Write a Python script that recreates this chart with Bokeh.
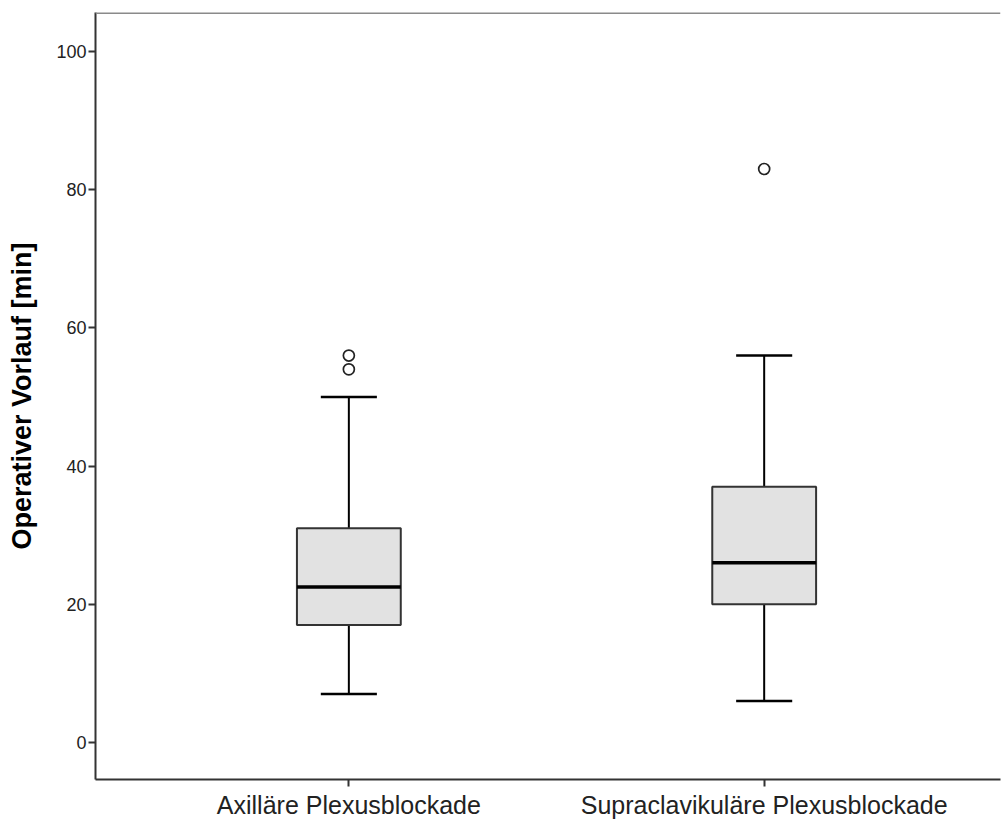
from bokeh.plotting import figure
from bokeh.models import Range1d, FixedTicker, ColumnDataSource, Span
from bokeh.embed import file_html
from bokeh.resources import INLINE

# Data
categories = ["Axilläre Plexusblockade", "Supraclavikuläre Plexusblockade"]
positions = [1, 2]
whisker_low = [7, 6]
q1 = [17, 20]
median = [22.5, 26]
q3 = [31, 37]
whisker_high = [50, 56]
outlier_pos = [1, 1, 2]
outlier_vals = [54, 56, 83]
y_ticks = [0, 20, 40, 60, 80, 100]

box_w = 0.25
cap_w = 0.135

p = figure(width=1002, height=825, output_backend="svg", toolbar_location=None,
           x_range=Range1d(0.39, 2.569), y_range=Range1d(-5.36, 105.65),
           min_border_left=95, min_border_right=2, min_border_top=12, min_border_bottom=46)

src = ColumnDataSource(dict(x=positions, lo=whisker_low, q1=q1, med=median, q3=q3, hi=whisker_high,
                            xl=[x - cap_w / 2 for x in positions], xr=[x + cap_w / 2 for x in positions],
                            bl=[x - box_w / 2 for x in positions], br=[x + box_w / 2 for x in positions]))

# whiskers
p.segment(x0="x", y0="q3", x1="x", y1="hi", source=src, line_color="black", line_width=2)
p.segment(x0="x", y0="lo", x1="x", y1="q1", source=src, line_color="black", line_width=2)
p.segment(x0="xl", y0="hi", x1="xr", y1="hi", source=src, line_color="black", line_width=2.5)
p.segment(x0="xl", y0="lo", x1="xr", y1="lo", source=src, line_color="black", line_width=2.5)
# boxes
p.vbar(x="x", width=box_w, bottom="q1", top="q3", source=src, fill_color="#e2e2e2",
       line_color="#333333", line_width=2)
p.segment(x0="bl", y0="med", x1="br", y1="med", source=src, line_color="black", line_width=3.5)
# outliers
p.scatter(outlier_pos, outlier_vals, size=11, fill_color=None, line_color="#222222", line_width=1.7)

p.grid.visible = False
p.outline_line_color = None
p.background_fill_color = "white"
p.border_fill_color = "white"

top = Span(location=105.65, dimension="width", line_color="#8a8a8a", line_width=3)
p.add_layout(top)

p.yaxis.ticker = FixedTicker(ticks=y_ticks)
p.yaxis.major_tick_in = 0
p.yaxis.major_tick_out = 7
p.yaxis.minor_tick_line_color = None
p.yaxis.axis_line_color = "#333333"
p.yaxis.axis_line_width = 2
p.yaxis.major_tick_line_color = "#333333"
p.yaxis.major_tick_line_width = 2
p.yaxis.major_label_text_font = "Liberation Sans"
p.yaxis.major_label_text_font_size = "18px"
p.yaxis.major_label_text_color = "#222222"
p.yaxis.major_label_standoff = 2
p.yaxis.axis_label = "Operativer Vorlauf [min]"
p.yaxis.axis_label_text_font = "Liberation Sans"
p.yaxis.axis_label_text_font_style = "bold"
p.yaxis.axis_label_text_font_size = "27px"
p.yaxis.axis_label_text_color = "black"
p.yaxis.axis_label_standoff = 16

p.xaxis.ticker = FixedTicker(ticks=positions)
p.xaxis.major_label_overrides = {pos: lab for pos, lab in zip(positions, categories)}
p.xaxis.major_tick_in = 0
p.xaxis.major_tick_out = 7
p.xaxis.minor_tick_line_color = None
p.xaxis.axis_line_color = "#333333"
p.xaxis.axis_line_width = 2
p.xaxis.major_tick_line_color = "#333333"
p.xaxis.major_tick_line_width = 2
p.xaxis.major_label_text_font = "Liberation Sans"
p.xaxis.major_label_text_font_size = "25px"
p.xaxis.major_label_text_color = "#222222"
p.xaxis.major_label_standoff = 4

open("out.html", "w").write(file_html(p, INLINE))
